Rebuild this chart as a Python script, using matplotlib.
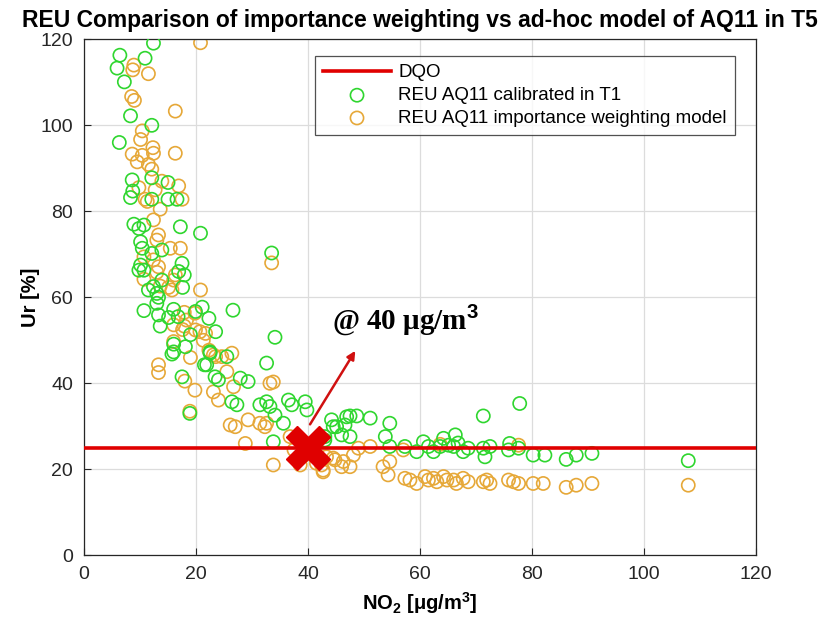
import matplotlib
matplotlib.use("Agg")
import matplotlib.pyplot as plt
from matplotlib import font_manager

available = {f.name for f in font_manager.fontManager.ttflist}
sans = "Liberation Sans Narrow" if "Liberation Sans Narrow" in available else "Liberation Sans"
serif = "Liberation Serif" if "Liberation Serif" in available else "DejaVu Serif"
plt.rcParams["font.family"] = [sans, "DejaVu Sans"]
plt.rcParams["mathtext.fontset"] = "custom"
plt.rcParams["mathtext.rm"] = sans
plt.rcParams["mathtext.bf"] = sans + ":bold"

# REU of the unit calibrated in T1
calib_x = [12.4, 6.4, 10.9, 5.9, 7.2, 8.3, 12.1, 6.3, 8.6, 12.1, 15.0, 8.7, 8.3, 15.0, 12.1, 16.6,
           8.9, 10.7, 9.8, 17.2, 20.8, 10.1, 10.4, 13.9, 12.1, 17.5, 10.1, 9.8, 10.7, 16.9, 17.9,
           13.9, 12.4, 17.6, 11.5, 13.0, 13.3, 13.0, 10.7, 13.3, 16.0, 19.9, 21.1, 26.6, 15.1, 16.8,
           22.3, 13.6, 23.5, 19.0, 16.0, 18.1, 22.5, 15.7, 25.5, 21.5,
           33.5, 34.1, 32.6, 16.0, 18.9, 22.5, 21.9, 23.4, 24.0, 27.9, 29.3, 26.4, 27.3, 31.4, 32.6,
           33.2, 36.5, 37.1, 39.5, 39.8, 35.6, 34.1, 33.8, 44.5, 43.0, 17.5,
           44.2, 45.1, 46.9, 47.5, 48.7, 51.1, 46.6, 46.0, 47.5, 54.6, 53.8, 54.6, 43.0,
           57.3, 59.4, 60.6, 61.5, 62.4, 63.6, 64.2, 65.1, 66.0, 66.3, 66.8, 67.7, 68.6, 71.3, 71.6,
           72.5, 75.8, 77.6, 80.2, 82.3, 71.3, 77.8, 76.0,
           86.1, 87.9, 90.7, 107.9]
calib_y = [119.1, 116.3, 115.6, 113.3, 110.1, 102.2, 100.0, 96.0, 87.3, 87.8, 86.7, 84.7, 83.2, 82.8, 82.8, 82.8,
           77.0, 76.8, 76.0, 76.4, 74.9, 72.9, 71.4, 71.0, 70.2, 67.9, 67.5, 66.3, 66.3, 66.0, 65.2,
           64.0, 62.5, 62.3, 61.7, 60.9, 60.0, 58.6, 56.9, 55.9, 57.2, 56.7, 57.7, 57.0, 55.3, 55.5,
           55.1, 53.3, 52.0, 51.3, 49.1, 48.5, 47.0, 46.8, 46.2, 44.3,
           70.3, 50.7, 44.7, 47.3, 33.0, 47.3, 44.3, 41.5, 40.8, 41.2, 40.4, 35.7, 35.0, 35.0, 35.7,
           34.6, 36.1, 35.0, 35.7, 33.8, 30.7, 32.6, 26.4, 29.9, 27.6, 41.5,
           31.5, 29.9, 32.2, 32.4, 32.4, 31.9, 30.3, 28.0, 27.6, 30.7, 27.6, 25.3, 26.8,
           25.3, 24.1, 26.4, 25.3, 24.1, 25.3, 27.2, 25.6, 25.3, 28.0, 26.1, 24.1, 24.9, 24.9, 22.9,
           25.3, 24.5, 24.9, 23.3, 23.3, 32.4, 35.3, 26.0,
           22.3, 23.3, 23.7, 22.0]

# REU of the importance weighting model
iw_x = [20.8, 8.9, 8.7, 11.5, 8.5, 9.0, 16.3, 10.4, 10.1, 12.3, 12.4, 8.6, 10.4, 16.3, 9.5, 11.5,
        12.1, 13.9, 16.9, 12.7, 9.8, 10.9, 17.5,
        11.3, 13.6, 12.4, 13.3, 13.0, 15.4, 17.2, 10.7, 12.4, 13.3, 13.0, 16.3, 10.7, 16.0, 13.6,
        15.1, 15.7, 20.8, 17.9, 17.9, 17.6, 19.9, 21.7, 16.0, 22.3, 23.5, 26.4, 19.0, 13.3, 13.3,
        18.9, 23.1, 24.6, 25.5, 19.8, 26.7, 23.1, 24.0, 33.2, 33.8, 29.3, 31.4, 32.3, 32.6, 26.1,
        27.0, 36.8, 28.8, 33.8, 41.5, 43.3, 42.7, 44.8, 20.7, 21.3, 19.8, 18.3, 33.5, 18.0, 16.0,
        38.6, 37.5, 39.0,
        44.5, 46.3, 46.0, 47.5, 42.7, 42.4, 48.1, 51.1, 53.4, 54.6, 54.3, 49.0, 63.6, 57.0,
        57.3, 58.2, 59.4, 60.9, 61.5, 62.4, 63.0, 64.2, 64.8, 66.0, 66.5, 67.7, 68.6, 71.3, 71.9,
        72.5, 75.8, 76.7, 77.6, 80.2, 82.0, 77.6,
        86.1, 87.9, 90.7, 107.9]
iw_y = [119.2, 114.0, 112.9, 112.0, 106.7, 105.8, 103.3, 98.7, 96.7, 94.8, 93.5, 93.3, 93.0, 93.5, 91.5, 90.9,
        89.8, 87.0, 85.9, 85.0, 85.5, 82.8, 82.8,
        82.3, 80.5, 78.0, 74.5, 73.3, 71.4, 71.4, 69.4, 68.7, 67.1, 65.8, 65.2, 64.2, 64.0, 62.6,
        62.3, 61.7, 61.7, 56.5, 53.3, 52.5, 52.4, 51.6, 49.7, 47.7, 46.2, 47.0, 46.0, 44.3, 42.5,
        33.5, 46.6, 46.2, 42.7, 38.4, 39.2, 38.0, 36.1, 40.0, 40.3, 31.5, 30.7, 29.9, 30.7, 30.3,
        29.9, 27.6, 26.0, 21.0, 21.4, 22.9, 19.4, 22.2, 52.0, 50.0, 56.3, 54.7, 68.0, 40.5, 53.6,
        21.0, 24.5, 23.0,
        22.6, 21.8, 20.6, 20.6, 19.8, 21.0, 23.3, 25.3, 20.6, 21.8, 18.7, 24.9, 25.8, 24.5,
        17.9, 17.5, 16.7, 18.3, 17.5, 17.9, 17.1, 18.3, 17.5, 17.5, 16.7, 17.9, 17.1, 17.1, 17.5,
        16.7, 17.5, 17.1, 16.7, 16.7, 16.7, 25.6,
        15.8, 16.3, 16.7, 16.3]

dqo_level = 25
mark_x, mark_y = 40, 25
arrow_tip = (48.7, 48.1)
arrow_base = (40.1, 29.9)

green = "#2fd62f"
orange = "#e6a838"
red = "#e00000"

fig = plt.figure(figsize=(8.19, 6.32), dpi=100)
ax = fig.add_axes([0.1026, 0.1214, 0.8205, 0.8164])

dqo_line, = ax.plot([0, 120], [dqo_level, dqo_level], color=red, lw=2.6, zorder=4, label="DQO")
h_cal = ax.scatter(calib_x, calib_y, s=90, facecolors="none", edgecolors=green,
                   linewidths=1.2, zorder=3, label="REU AQ11 calibrated in T1")
h_iw = ax.scatter(iw_x, iw_y, s=90, facecolors="none", edgecolors=orange,
                  linewidths=1.2, zorder=2, label="REU AQ11 importance weighting model")

ax.plot([mark_x], [mark_y], marker="X", markersize=31, color=red, mec=red, zorder=6)
ax.annotate("", xy=arrow_tip, xytext=arrow_base,
            arrowprops=dict(arrowstyle="-|>", color="#d01010", lw=1.8, mutation_scale=12),
            zorder=5)
ax.text(44.3, 54.7, r"@ 40 μg/m$^{\mathbf{3}}$", fontsize=21, fontweight="bold",
        family=[serif, "DejaVu Serif"], va="center", ha="left", zorder=6)

ax.set_xlim(0, 120)
ax.set_ylim(0, 120)
ax.set_xticks(range(0, 121, 20))
ax.set_yticks(range(0, 121, 20))
ax.grid(True, color="#dcdcdc", lw=0.9)
ax.set_axisbelow(True)
ax.tick_params(direction="in", length=5, labelsize=14, colors="#262626", pad=8)
for sp in ax.spines.values():
    sp.set_color("#262626")
    sp.set_linewidth(0.9)

ax.set_title("REU Comparison of importance weighting vs ad-hoc model of AQ11 in T5",
             fontsize=16.5, fontweight="bold", pad=9)
ax.set_xlabel(r"NO$_\mathbf{2}$ [μg/m$^\mathbf{3}$]", fontsize=14.5, fontweight="bold", labelpad=5)
ax.set_ylabel("Ur [%]", fontsize=14.5, fontweight="bold", labelpad=0)

leg = ax.legend(handles=[dqo_line, h_cal, h_iw], loc="upper right",
                bbox_to_anchor=(0.969, 0.968), borderaxespad=0, fontsize=13.5,
                frameon=True, fancybox=False, edgecolor="#262626", borderpad=0.45,
                handlelength=3.6, labelspacing=0.3, handletextpad=0.4)
leg.get_frame().set_linewidth(0.9)

fig.savefig("out.png", dpi=100)
